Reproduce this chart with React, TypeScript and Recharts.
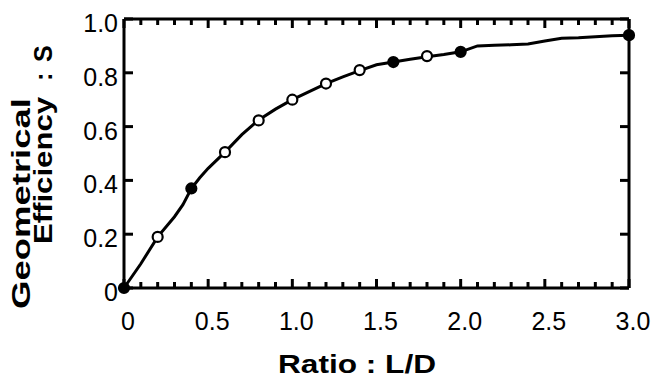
import React from 'react';
import { ComposedChart, Line, XAxis, YAxis } from 'recharts';

// curve through the measured points (L/D vs S)
const lineX = [0, 0.1, 0.2, 0.3, 0.35, 0.4, 0.45, 0.5, 0.6, 0.7, 0.8, 0.9, 1.0, 1.1, 1.2, 1.3, 1.4, 1.5, 1.6, 1.7, 1.8, 1.9, 2.0, 2.1, 2.2, 2.3, 2.4, 2.5, 2.6, 2.7, 2.8, 2.9, 3.0];
const lineS = [0, 0.09, 0.19, 0.265, 0.31, 0.37, 0.41, 0.445, 0.505, 0.57, 0.625, 0.665, 0.7, 0.73, 0.76, 0.785, 0.808, 0.83, 0.84, 0.85, 0.86, 0.868, 0.878, 0.9, 0.902, 0.904, 0.907, 0.918, 0.928, 0.93, 0.934, 0.938, 0.94];

// marker points
const openX = [0.2, 0.6, 0.8, 1.0, 1.2, 1.4, 1.8];
const openS = [0.19, 0.505, 0.623, 0.7, 0.76, 0.81, 0.862];
const filledX = [0, 0.4, 1.6, 2.0, 3.0];
const filledS = [0, 0.37, 0.84, 0.878, 0.94];

const xMajorTicks = [0, 0.5, 1.0, 1.5, 2.0, 2.5, 3.0];
const xMinorTicks = [0.1, 0.2, 0.3, 0.4, 0.6, 0.7, 0.8, 0.9, 1.1, 1.2, 1.3, 1.4, 1.6, 1.7, 1.8, 1.9, 2.1, 2.2, 2.3, 2.4, 2.6, 2.7, 2.8, 2.9];
const yTicks = [0, 0.2, 0.4, 0.6, 0.8, 1.0];

const lineData = lineX.map((x, i) => ({ x, s: lineS[i] }));
const openData = openX.map((x, i) => ({ x, s: openS[i] }));
const filledData = filledX.map((x, i) => ({ x, s: filledS[i] }));

// inward tick marks on all four sides of the frame, placed through the chart scales
const bottomMajor = xMajorTicks.map((x) => ({ x, s: 0 }));
const topMajor = xMajorTicks.map((x) => ({ x, s: 1 }));
const bottomMinor = xMinorTicks.map((x) => ({ x, s: 0 }));
const topMinor = xMinorTicks.map((x) => ({ x, s: 1 }));
const leftTicks = yTicks.map((s) => ({ x: 0, s }));
const rightTicks = yTicks.map((s) => ({ x: 3, s }));

const FONT = '"Liberation Sans", Arial, sans-serif';
const AXIS = { stroke: '#000', strokeWidth: 3 };

const fmt = (v: number) => (v === 0 ? '0' : v.toFixed(1));

const BottomLabel = (props: any) => {
    const { x, y, payload } = props;
    return (
        <text x={x + 4} y={y + 42} textAnchor="middle" fontFamily={FONT} fontSize={25} fill="#000">
            {fmt(payload.value)}
        </text>
    );
};

const LeftLabel = (props: any) => {
    const { x, y, payload } = props;
    return (
        <text x={x - 6} y={y + 13} textAnchor="end" fontFamily={FONT} fontSize={25} fill="#000">
            {fmt(payload.value)}
        </text>
    );
};

const Dot = (fill: string) => (props: any) => {
    const { cx, cy, index } = props;
    return <circle key={index} cx={cx} cy={cy} r={5} fill={fill} stroke="#000" strokeWidth={2.2} />;
};

// dx, dy: direction and length of the tick from the frame
const TickMark = (dx: number, dy: number) => (props: any) => {
    const { cx, cy, index } = props;
    return <line key={index} x1={cx} y1={cy} x2={cx + dx} y2={cy + dy} stroke="#000" strokeWidth={3} />;
};

const titleProps = { fontFamily: FONT, fontWeight: 'bold', fill: '#000', lengthAdjust: 'spacingAndGlyphs' } as const;

const hiddenLine = { xAxisId: 'main', yAxisId: 'main', dataKey: 's', stroke: 'none', activeDot: false, isAnimationActive: false } as const;

export default function App() {
    return (
        <div style={{ position: 'absolute', left: 0, top: 0, background: '#fff' }}>
            <ComposedChart width={651} height={380} margin={{ top: 0, right: 0, bottom: 0, left: 0 }}>
                <XAxis
                    xAxisId="main"
                    dataKey="x"
                    type="number"
                    domain={[0, 3]}
                    ticks={xMajorTicks}
                    interval={0}
                    height={92}
                    tickSize={0}
                    tickMargin={0}
                    tickLine={false}
                    tick={BottomLabel}
                    axisLine={AXIS}
                />
                <XAxis
                    xAxisId="top"
                    orientation="top"
                    dataKey="x"
                    type="number"
                    domain={[0, 3]}
                    ticks={xMajorTicks}
                    height={19}
                    tickLine={false}
                    tick={false}
                    axisLine={AXIS}
                />
                <YAxis
                    yAxisId="main"
                    dataKey="s"
                    type="number"
                    domain={[0, 1]}
                    ticks={yTicks}
                    interval={0}
                    width={124}
                    tickSize={0}
                    tickMargin={0}
                    tickLine={false}
                    tick={LeftLabel}
                    axisLine={AXIS}
                />
                <YAxis
                    yAxisId="right"
                    orientation="right"
                    dataKey="s"
                    type="number"
                    domain={[0, 1]}
                    ticks={yTicks}
                    width={22}
                    tickLine={false}
                    tick={false}
                    axisLine={AXIS}
                />
                <Line
                    xAxisId="main"
                    yAxisId="main"
                    data={lineData}
                    dataKey="s"
                    type="linear"
                    stroke="#000"
                    strokeWidth={3}
                    dot={false}
                    activeDot={false}
                    isAnimationActive={false}
                />
                {/* binds the top/right frame axes */}
                <Line xAxisId="top" yAxisId="right" data={lineData} dataKey="s" stroke="none" dot={false} activeDot={false} isAnimationActive={false} />
                {/* tick marks */}
                <Line {...hiddenLine} data={bottomMajor} dot={TickMark(0, -9)} />
                <Line {...hiddenLine} data={bottomMinor} dot={TickMark(0, -6)} />
                <Line {...hiddenLine} data={topMajor} dot={TickMark(0, 9)} />
                <Line {...hiddenLine} data={topMinor} dot={TickMark(0, 6)} />
                <Line {...hiddenLine} data={leftTicks} dot={TickMark(9, 0)} />
                <Line {...hiddenLine} data={rightTicks} dot={TickMark(-9, 0)} />
                {/* markers */}
                <Line {...hiddenLine} data={openData} dot={Dot('#fff')} />
                <Line {...hiddenLine} data={filledData} dot={Dot('#000')} />
                <text x={278} y={373} fontSize={26} textLength={158} {...titleProps}>
                    Ratio : L/D
                </text>
                <text x={30} y={309} transform="rotate(-90 30 309)" fontSize={26} textLength={211} {...titleProps}>
                    Geometrical
                </text>
                <text x={52} y={244} transform="rotate(-90 52 244)" fontSize={25} textLength={147} {...titleProps}>
                    Efficiency
                </text>
                <text x={52} y={81} transform="rotate(-90 52 81)" fontSize={25} {...titleProps}>
                    :
                </text>
                <text x={52} y={62} transform="rotate(-90 52 62)" fontSize={25} {...titleProps}>
                    S
                </text>
            </ComposedChart>
        </div>
    );
}
